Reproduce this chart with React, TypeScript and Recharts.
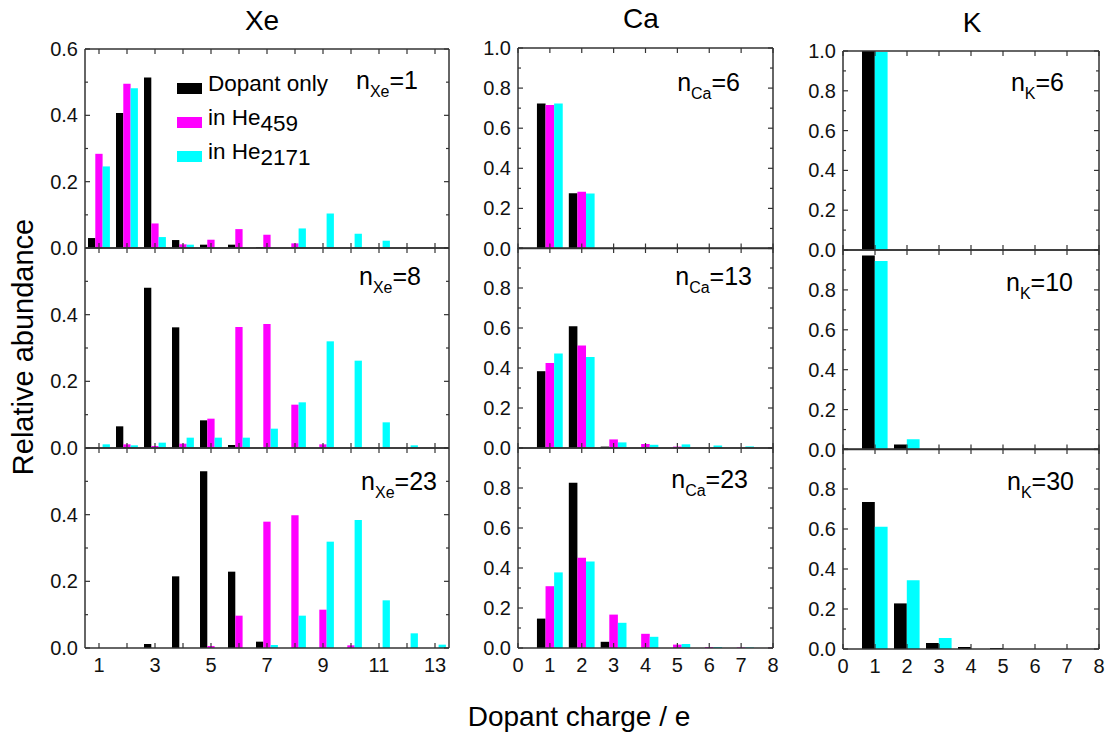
import React from "react";
import { Bar, BarChart, Legend, XAxis, YAxis } from "recharts";

const FONT = 'Arial, "Liberation Sans", sans-serif';
const FRAME = "#333";
const COLORS: Record<string, string> = { dopant: "#000000", he459: "#ff00ff", he2171: "#00ffff" };

// charge states on the x axes
const xeCharges = [1, 2, 3, 4, 5, 6, 7, 8, 9, 10, 11, 12, 13];
const smallCharges = [1, 2, 3, 4, 5, 6, 7, 8];

// Xe, n = 1, 8, 23
const xe1Dopant = [0.03, 0.407, 0.514, 0.024, 0.01, 0.01, 0.003, 0, 0, 0, 0, 0, 0];
const xe1He459 = [0.284, 0.495, 0.074, 0.011, 0.025, 0.057, 0.04, 0.014, 0, 0, 0, 0, 0];
const xe1He2171 = [0.246, 0.482, 0.033, 0.01, 0, 0, 0, 0.059, 0.104, 0.043, 0.022, 0, 0];
const xe8Dopant = [0, 0.065, 0.481, 0.362, 0.083, 0.009, 0, 0, 0, 0, 0, 0, 0];
const xe8He459 = [0, 0.011, 0.006, 0.013, 0.088, 0.363, 0.372, 0.13, 0.011, 0, 0, 0, 0];
const xe8He2171 = [0.011, 0.008, 0.016, 0.031, 0.031, 0.031, 0.058, 0.137, 0.32, 0.262, 0.077, 0.008, 0];
const xe23Dopant = [0, 0, 0.012, 0.215, 0.53, 0.229, 0.019, 0, 0, 0, 0, 0, 0];
const xe23He459 = [0, 0, 0, 0, 0.006, 0.097, 0.379, 0.398, 0.115, 0.008, 0, 0, 0];
const xe23He2171 = [0, 0, 0, 0, 0, 0, 0.009, 0.097, 0.319, 0.384, 0.143, 0.044, 0.01];

// Ca, n = 6, 13, 23
const ca6Dopant = [0.723, 0.276, 0, 0, 0, 0, 0, 0];
const ca6He459 = [0.716, 0.283, 0, 0, 0, 0, 0, 0];
const ca6He2171 = [0.723, 0.274, 0, 0, 0, 0, 0, 0];
const ca13Dopant = [0.384, 0.609, 0.007, 0, 0, 0, 0, 0];
const ca13He459 = [0.425, 0.512, 0.043, 0.02, 0.007, 0, 0, 0];
const ca13He2171 = [0.472, 0.455, 0.028, 0.016, 0.018, 0.013, 0.008, 0];
const ca23Dopant = [0.147, 0.826, 0.031, 0, 0, 0, 0, 0];
const ca23He459 = [0.309, 0.451, 0.167, 0.071, 0.017, 0.005, 0.003, 0.002];
const ca23He2171 = [0.378, 0.433, 0.126, 0.056, 0.02, 0.005, 0.003, 0];

// K, n = 6, 10, 30 (no He459 data)
const k6Dopant = [1.0, 0, 0, 0, 0, 0, 0, 0];
const k6He2171 = [0.995, 0, 0, 0, 0, 0, 0, 0];
const k10Dopant = [0.973, 0.025, 0, 0, 0, 0, 0, 0];
const k10He2171 = [0.945, 0.051, 0, 0, 0, 0, 0, 0];
const k30Dopant = [0.735, 0.228, 0.03, 0.01, 0.005, 0, 0, 0];
const k30He2171 = [0.611, 0.344, 0.055, 0, 0, 0, 0, 0];

// axis ticks
const xeTicks = xeCharges;
const xeTickLabels = [1, 3, 5, 7, 9, 11, 13];
const smallTicks = [0, 1, 2, 3, 4, 5, 6, 7, 8];
const xeYTicks = [0, 0.1, 0.2, 0.3, 0.4, 0.5, 0.6];
const xeYLabelsTop = [0, 0.2, 0.4, 0.6];
const xeYLabels = [0, 0.2, 0.4];
const unitYTicks = [0, 0.1, 0.2, 0.3, 0.4, 0.5, 0.6, 0.7, 0.8, 0.9, 1.0];
const unitYLabelsTop = [0, 0.2, 0.4, 0.6, 0.8, 1.0];
const unitYLabels = [0, 0.2, 0.4, 0.6, 0.8];

const SERIES = [
  { key: "dopant", name: "Dopant only", sub: "" },
  { key: "he459", name: "in He", sub: "459" },
  { key: "he2171", name: "in He", sub: "2171" },
];

type Row = { q: number; [k: string]: number };

function buildRows(charges: number[], cols: Record<string, number[]>): Row[] {
  return charges.map((q, i) => {
    const r: Row = { q };
    Object.keys(cols).forEach((k) => (r[k] = cols[k][i]));
    return r;
  });
}

const near = (list: number[] | null, v: number) => !!list && list.some((t) => Math.abs(t - v) < 1e-6);
const isMajorY = (v: number) => Math.round(v * 10) % 2 === 0;

function LeftTick({ x, y, payload, labels }: any) {
  const v = payload.value;
  return (
    <g>
      <line x1={x} x2={x + (isMajorY(v) ? 5 : 3)} y1={y} y2={y} stroke={FRAME} strokeWidth={1.2} />
      {near(labels, v) && (
        <text x={x - 7} y={y} textAnchor="end" dominantBaseline="central" fontSize={20} fontFamily={FONT} fill="#111">
          {v.toFixed(1)}
        </text>
      )}
    </g>
  );
}

function RightTick({ x, y, payload }: any) {
  const v = payload.value;
  return <line x1={x} x2={x - (isMajorY(v) ? 5 : 3)} y1={y} y2={y} stroke={FRAME} strokeWidth={1.2} />;
}

function BottomTick({ x, y, payload, labels }: any) {
  const v = payload.value;
  return (
    <g>
      <line x1={x} x2={x} y1={y} y2={y - 5} stroke={FRAME} strokeWidth={1.2} />
      {near(labels, v) && (
        <text x={x} y={y + 17} textAnchor="middle" dominantBaseline="central" fontSize={20} fontFamily={FONT} fill="#111">
          {v}
        </text>
      )}
    </g>
  );
}

function TopTick({ x, y }: any) {
  return <line x1={x} x2={x} y1={y} y2={y + 5} stroke={FRAME} strokeWidth={1.2} />;
}

function LegendBox({ payload }: any) {
  return (
    <div style={{ fontFamily: FONT, fontSize: 22.5, color: "#000" }}>
      {(payload || []).map((e: any) => {
        const s = SERIES.find((x) => x.key === e.dataKey);
        return (
          <div key={e.dataKey} style={{ display: "flex", alignItems: "flex-start", height: 34, lineHeight: "34px" }}>
            <span style={{ width: 25, height: 11, marginTop: 16, marginRight: 6, background: e.color, display: "inline-block" }} />
            <span style={{ whiteSpace: "nowrap" }}>
              {s ? s.name : e.value}
              {s && s.sub && <span style={{ position: "relative", top: 6 }}>{s.sub}</span>}
            </span>
          </div>
        );
      })}
    </div>
  );
}

const ML = 60;
const MT = 10;
const MR = 10;

type PanelProps = {
  data: Row[];
  keys: string[];
  left: number;
  top: number;
  width: number;
  height: number;
  xDomain: [number, number];
  xTicks: number[];
  xLabels: number[] | null;
  yMax: number;
  yTicks: number[];
  yLabels: number[];
  barSize: number;
  el: string;
  n: string;
  tagDx: number;
  tagDy: number;
  legend?: boolean;
};

function Panel(p: PanelProps) {
  const mb = p.xLabels ? 34 : 14;
  const w = ML + p.width + MR;
  const h = MT + p.height + mb;
  const line = { stroke: FRAME, strokeWidth: 1.5 };
  // every axis takes 1px, so the margins give 1px back
  return (
    <div style={{ position: "absolute", left: p.left - ML, top: p.top - MT }}>
      <BarChart
        width={w}
        height={h}
        data={p.data}
        margin={{ top: MT - 1, right: MR - 1, bottom: mb - 1, left: ML - 1 }}
        barGap={0}
      >
        <XAxis
          xAxisId="b"
          dataKey="q"
          type="number"
          domain={p.xDomain}
          ticks={p.xTicks}
          interval={0}
          height={1}
          tickSize={0}
          tickMargin={0}
          tickLine={false}
          axisLine={line}
          allowDataOverflow
          tick={(t: any) => <BottomTick {...t} labels={p.xLabels} />}
        />
        <XAxis
          xAxisId="t"
          orientation="top"
          dataKey="q"
          type="number"
          domain={p.xDomain}
          ticks={p.xTicks}
          interval={0}
          height={1}
          tickSize={0}
          tickMargin={0}
          tickLine={false}
          axisLine={line}
          allowDataOverflow
          tick={(t: any) => <TopTick {...t} />}
        />
        <YAxis
          yAxisId="l"
          type="number"
          domain={[0, p.yMax]}
          ticks={p.yTicks}
          interval={0}
          width={1}
          tickSize={0}
          tickMargin={0}
          tickLine={false}
          axisLine={line}
          allowDataOverflow
          tick={(t: any) => <LeftTick {...t} labels={p.yLabels} />}
        />
        <YAxis
          yAxisId="r"
          orientation="right"
          type="number"
          domain={[0, p.yMax]}
          ticks={p.yTicks}
          interval={0}
          width={1}
          tickSize={0}
          tickMargin={0}
          tickLine={false}
          axisLine={line}
          allowDataOverflow
          tick={(t: any) => <RightTick {...t} />}
        />
        {p.keys.map((k) => (
          <Bar
            key={k}
            xAxisId="b"
            yAxisId="l"
            dataKey={k}
            name={SERIES.find((s) => s.key === k)?.name}
            fill={COLORS[k]}
            barSize={p.barSize}
            isAnimationActive={false}
          />
        ))}
        {p.legend && (
          <Legend
            layout="vertical"
            align="center"
            verticalAlign="middle"
            wrapperStyle={{ left: 152, top: 28, width: "auto" }}
            content={(props: any) => <LegendBox {...props} />}
          />
        )}
        <text x={ML + p.width - p.tagDx} y={MT + p.tagDy} textAnchor="end" fontFamily={FONT} fill="#000">
          <tspan fontSize={25}>n</tspan>
          <tspan fontSize={16} dy={8}>
            {p.el}
          </tspan>
          <tspan fontSize={25} dy={-8}>
            ={p.n}
          </tspan>
        </text>
      </BarChart>
    </div>
  );
}

const threeKeys = ["dopant", "he459", "he2171"];
const twoKeys = ["dopant", "he2171"];

const xeRows = [
  buildRows(xeCharges, { dopant: xe1Dopant, he459: xe1He459, he2171: xe1He2171 }),
  buildRows(xeCharges, { dopant: xe8Dopant, he459: xe8He459, he2171: xe8He2171 }),
  buildRows(xeCharges, { dopant: xe23Dopant, he459: xe23He459, he2171: xe23He2171 }),
];
const caRows = [
  buildRows(smallCharges, { dopant: ca6Dopant, he459: ca6He459, he2171: ca6He2171 }),
  buildRows(smallCharges, { dopant: ca13Dopant, he459: ca13He459, he2171: ca13He2171 }),
  buildRows(smallCharges, { dopant: ca23Dopant, he459: ca23He459, he2171: ca23He2171 }),
];
const kRows = [
  buildRows(smallCharges, { dopant: k6Dopant, he2171: k6He2171 }),
  buildRows(smallCharges, { dopant: k10Dopant, he2171: k10He2171 }),
  buildRows(smallCharges, { dopant: k30Dopant, he2171: k30He2171 }),
];

const xeN = ["1", "8", "23"];
const caN = ["6", "13", "23"];
const kN = ["6", "10", "30"];

// panel placement: [top, height] per row, plus tag offsets
const XE_POS = [[49, 199], [248, 200], [448, 200]];
const CA_POS = [[47.5, 200.5], [248, 200], [448, 200]];
const K_POS = [[50.5, 199], [249.5, 199.5], [449, 200]];
const XE_TAG = [[31, 40], [28, 37], [12, 42]];
const CA_TAG = [[33, 43], [21, 37], [25, 40]];
const K_TAG = [[35, 40], [26, 41], [25, 41]];

export default function App() {
  return (
    <div style={{ position: "absolute", left: 0, top: 0, width: 1112, height: 740, background: "#fff", fontFamily: FONT }}>
      <svg width={1112} height={740} style={{ position: "absolute", left: 0, top: 0 }}>
        <text x={262} y={30} textAnchor="middle" fontSize={28} fontFamily={FONT} fill="#000">Xe</text>
        <text x={641} y={28} textAnchor="middle" fontSize={28} fontFamily={FONT} fill="#000">Ca</text>
        <text x={972} y={32} textAnchor="middle" fontSize={28} fontFamily={FONT} fill="#000">K</text>
        <text
          x={23}
          y={347}
          transform="rotate(-90 23 347)"
          textAnchor="middle"
          dominantBaseline="central"
          fontSize={29}
          fontFamily={FONT}
          fill="#000"
        >
          Relative abundance
        </text>
        <text x={579} y={726} textAnchor="middle" fontSize={28} fontFamily={FONT} fill="#000">
          Dopant charge / e
        </text>
      </svg>

      {xeRows.map((rows, i) => (
        <Panel
          key={"xe" + i}
          data={rows}
          keys={threeKeys}
          left={85}
          top={XE_POS[i][0]}
          width={364}
          height={XE_POS[i][1]}
          xDomain={[0.5, 13.5]}
          xTicks={xeTicks}
          xLabels={i === 2 ? xeTickLabels : null}
          yMax={0.6}
          yTicks={xeYTicks}
          yLabels={i === 0 ? xeYLabelsTop : xeYLabels}
          barSize={7.3}
          el="Xe"
          n={xeN[i]}
          tagDx={XE_TAG[i][0]}
          tagDy={XE_TAG[i][1]}
          legend={i === 0}
        />
      ))}

      {caRows.map((rows, i) => (
        <Panel
          key={"ca" + i}
          data={rows}
          keys={threeKeys}
          left={518}
          top={CA_POS[i][0]}
          width={255}
          height={CA_POS[i][1]}
          xDomain={[0, 8]}
          xTicks={smallTicks}
          xLabels={i === 2 ? smallTicks : null}
          yMax={1}
          yTicks={unitYTicks}
          yLabels={i === 0 ? unitYLabelsTop : unitYLabels}
          barSize={8.6}
          el="Ca"
          n={caN[i]}
          tagDx={CA_TAG[i][0]}
          tagDy={CA_TAG[i][1]}
        />
      ))}

      {kRows.map((rows, i) => (
        <Panel
          key={"k" + i}
          data={rows}
          keys={twoKeys}
          left={843}
          top={K_POS[i][0]}
          width={256}
          height={K_POS[i][1]}
          xDomain={[0, 8]}
          xTicks={smallTicks}
          xLabels={i === 2 ? smallTicks : null}
          yMax={1}
          yTicks={unitYTicks}
          yLabels={i === 0 ? unitYLabelsTop : unitYLabels}
          barSize={12.8}
          el="K"
          n={kN[i]}
          tagDx={K_TAG[i][0]}
          tagDy={K_TAG[i][1]}
        />
      ))}
    </div>
  );
}
